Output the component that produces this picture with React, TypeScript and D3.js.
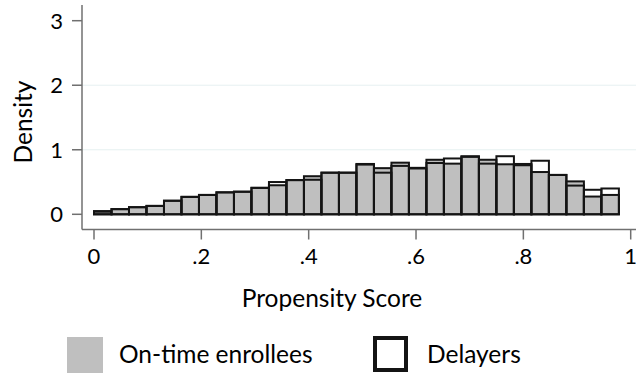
import { useEffect, useRef } from "react"
import * as d3 from "d3"

// histogram bins (propensity score), 30 equal-width bins
const binStart = 0.0
const binWidth = 0.0326
const onTime = [0.04, 0.08, 0.11, 0.13, 0.21, 0.27, 0.3, 0.34, 0.35, 0.41, 0.45, 0.53, 0.59, 0.645, 0.645, 0.78, 0.715, 0.8, 0.72, 0.845, 0.785, 0.9, 0.845, 0.775, 0.78, 0.655, 0.61, 0.51, 0.275, 0.3]
const delayers = [0.05, 0.08, 0.11, 0.13, 0.21, 0.27, 0.3, 0.34, 0.35, 0.41, 0.5, 0.53, 0.535, 0.645, 0.645, 0.77, 0.645, 0.75, 0.71, 0.795, 0.865, 0.89, 0.785, 0.9, 0.76, 0.83, 0.61, 0.445, 0.38, 0.4]
const xTicks = [0, 0.2, 0.4, 0.6, 0.8, 1]
const yTicks = [0, 1, 2, 3]
const gridTicks = [1, 2]
const legendItems = ["On-time enrollees", "Delayers"]

const FONT = "Lato, 'Open Sans', sans-serif"
const GRAY = "#bfbfbf"
const INK = "#141414"
const AXIS = "#707070"

export default function App() {
  const svgRef = useRef<SVGSVGElement>(null)

  useEffect(() => {
    const svgEl = svgRef.current
    if (!svgEl) return
    const svg = d3.select(svgEl)
    svg.selectAll("*").remove()

    const W = 636
    const axisX = 82
    const axisY = 229.5

    const x = d3.scaleLinear().domain([0, 1]).range([94, 630.7])
    const y = d3.scaleLinear().domain([0, 3]).range([214.3, 20.7])

    // grid
    svg.append("g").selectAll("line").data(gridTicks).join("line")
      .attr("x1", axisX).attr("x2", W)
      .attr("y1", d => y(d)).attr("y2", d => y(d))
      .attr("stroke", "#e6f0f1").attr("stroke-width", 1)

    const bins = onTime.map((v, i) => ({
      x0: binStart + i * binWidth,
      x1: binStart + (i + 1) * binWidth,
      a: v,
      b: delayers[i],
    }))

    // on-time enrollees: gray filled bars
    svg.append("g").selectAll("rect").data(bins).join("rect")
      .attr("x", d => x(d.x0))
      .attr("width", d => x(d.x1) - x(d.x0))
      .attr("y", d => y(d.a))
      .attr("height", d => y(0) - y(d.a))
      .attr("fill", GRAY)
      .attr("stroke", INK)
      .attr("stroke-width", 2)

    // delayers: outline only
    svg.append("g").selectAll("rect").data(bins).join("rect")
      .attr("x", d => x(d.x0))
      .attr("width", d => x(d.x1) - x(d.x0))
      .attr("y", d => y(d.b))
      .attr("height", d => y(0) - y(d.b))
      .attr("fill", "none")
      .attr("stroke", INK)
      .attr("stroke-width", 2)

    // y axis
    const yAxis = svg.append("g")
    yAxis.append("line")
      .attr("x1", axisX).attr("x2", axisX).attr("y1", 5).attr("y2", axisY)
      .attr("stroke", AXIS).attr("stroke-width", 1.5)
    yAxis.selectAll("line.tick").data(yTicks).join("line")
      .attr("class", "tick")
      .attr("x1", axisX - 10).attr("x2", axisX)
      .attr("y1", d => y(d)).attr("y2", d => y(d))
      .attr("stroke", AXIS).attr("stroke-width", 1.5)
    yAxis.selectAll("text").data(yTicks).join("text")
      .attr("x", 63).attr("y", d => y(d))
      .attr("dy", "0.36em")
      .attr("text-anchor", "end")
      .attr("font-family", FONT).attr("font-size", 22)
      .text(d => String(d))

    // x axis
    const fmt = (v: number) => (v === 0 || v === 1 ? String(v) : d3.format(".1f")(v).replace(/^0/, ""))
    const xAxis = svg.append("g")
    xAxis.append("line")
      .attr("x1", axisX).attr("x2", W).attr("y1", axisY).attr("y2", axisY)
      .attr("stroke", AXIS).attr("stroke-width", 1.5)
    xAxis.selectAll("line.tick").data(xTicks).join("line")
      .attr("class", "tick")
      .attr("x1", d => x(d)).attr("x2", d => x(d))
      .attr("y1", axisY).attr("y2", axisY + 10)
      .attr("stroke", AXIS).attr("stroke-width", 1.5)
    xAxis.selectAll("text").data(xTicks).join("text")
      .attr("x", d => x(d)).attr("y", 264)
      .attr("text-anchor", "middle")
      .attr("font-family", FONT).attr("font-size", 22)
      .text(d => fmt(d))

    // titles
    svg.append("text")
      .attr("x", 332).attr("y", 307)
      .attr("text-anchor", "middle")
      .attr("font-family", FONT).attr("font-size", 24.5)
      .text("Propensity Score")
    svg.append("text")
      .attr("transform", `translate(32,122) rotate(-90)`)
      .attr("text-anchor", "middle")
      .attr("font-family", FONT).attr("font-size", 24.5)
      .text("Density")

    // legend
    const lg = svg.append("g")
    lg.append("rect")
      .attr("x", 67).attr("y", 337).attr("width", 36).attr("height", 36)
      .attr("fill", GRAY)
    lg.append("rect")
      .attr("x", 375).attr("y", 338).attr("width", 31).attr("height", 32)
      .attr("fill", "none").attr("stroke", INK).attr("stroke-width", 4)
    lg.selectAll("text").data(legendItems).join("text")
      .attr("x", (_, i) => (i === 0 ? 119 : 427))
      .attr("y", 363)
      .attr("font-family", FONT).attr("font-size", 24.5)
      .text(d => d)
  }, [])

  return (
    <div style={{ position: "fixed", left: 0, top: 0 }}>
      <svg ref={svgRef} width={636} height={374} style={{ display: "block", background: "#fff" }} />
    </div>
  )
}
